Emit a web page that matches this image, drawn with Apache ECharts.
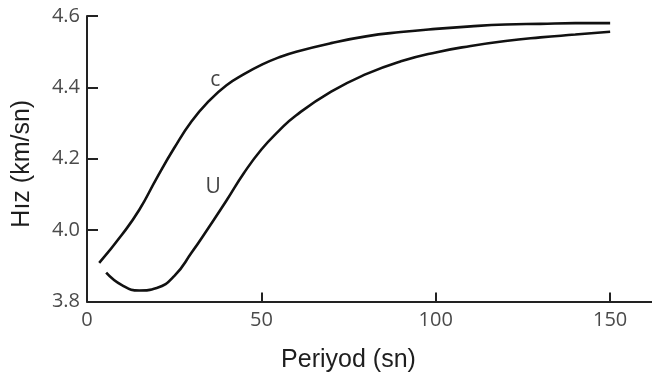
<!DOCTYPE html>
<html>
<head>
<meta charset="utf-8">
<script src="https://cdn.jsdelivr.net/npm/echarts@6/dist/echarts.min.js"></script>
<style>
  html, body { margin: 0; padding: 0; background: #fff; }
  #chart { width: 652px; height: 376px; }
</style>
</head>
<body>
<div id="chart"></div>
<script>
// Phase velocity (c) and group velocity (U) versus period
var cPeriods = [3.5, 10, 15, 20, 25, 30, 35, 40, 45, 50, 55, 60, 70, 80, 90, 100, 110, 120, 130, 140, 150];
var cSpeeds  = [3.908, 3.987, 4.057, 4.146, 4.230, 4.305, 4.362, 4.406, 4.437, 4.463, 4.484, 4.500, 4.524, 4.543, 4.555, 4.564, 4.571, 4.576, 4.578, 4.580, 4.580];

var uPeriods = [5.5, 10, 15, 20, 25, 30, 35, 40, 45, 50, 55, 60, 70, 80, 90, 100, 110, 120, 130, 140, 150];
var uSpeeds  = [3.881, 3.846, 3.831, 3.838, 3.871, 3.937, 4.009, 4.083, 4.160, 4.226, 4.278, 4.322, 4.388, 4.437, 4.473, 4.498, 4.516, 4.530, 4.540, 4.548, 4.556];

// Curve labels and where they sit (period, speed)
var curveNames = ['c', 'U'];
var curveLabelAt = [[36.8, 4.421], [36.2, 4.122]];

var yTicks = [3.8, 4.0, 4.2, 4.4, 4.6];
var xTicks = [0, 50, 100, 150];

function pairs(xs, ys) {
  return xs.map(function (x, i) { return [x, ys[i]]; });
}

var chart = echarts.init(document.getElementById('chart'), null, { renderer: 'canvas' });

var tickFont = { fontFamily: 'Open Sans', fontSize: 20, color: '#4a4a4a' };
var nameFont = { fontFamily: 'Liberation Sans', fontSize: 25, color: '#1e1e1e' };

function curve(name, data, labelPos) {
  return {
    name: name,
    type: 'line',
    data: data,
    smooth: 0.5,
    showSymbol: false,
    symbol: 'none',
    silent: true,
    lineStyle: { color: '#111', width: 2.6 },
    markPoint: {
      symbol: 'circle',
      symbolSize: 1,
      silent: true,
      itemStyle: { color: 'rgba(0,0,0,0)' },
      label: {
        show: true,
        position: 'inside',
        formatter: name,
        fontFamily: 'Open Sans',
        fontSize: 21,
        color: '#444'
      },
      data: [{ coord: labelPos }]
    }
  };
}

chart.setOption({
  animation: false,
  backgroundColor: '#fff',
  grid: { left: 87, right: 0, top: 16, bottom: 74.5, outerBoundsMode: 'none' },
  xAxis: {
    type: 'value',
    min: 0,
    max: 162,
    interval: 50,
    name: 'Periyod (sn)',
    nameLocation: 'middle',
    nameGap: 46,
    nameTextStyle: Object.assign({ padding: [0, 42, 0, 0] }, nameFont),
    axisLine: { show: true, lineStyle: { color: '#222', width: 2 } },
    axisTick: { show: true, inside: true, length: 9, lineStyle: { color: '#222', width: 2 } },
    axisLabel: Object.assign({
      margin: 9,
      showMaxLabel: false,
      formatter: function (v) { return xTicks.indexOf(v) >= 0 ? String(v) : ''; }
    }, tickFont),
    splitLine: { show: false }
  },
  yAxis: {
    type: 'value',
    min: 3.8,
    max: 4.6,
    interval: 0.2,
    name: 'Hız (km/sn)',
    nameLocation: 'middle',
    nameGap: 52,
    nameTextStyle: Object.assign({ padding: [0, 10, 0, 0] }, nameFont),
    axisLine: { show: true, lineStyle: { color: '#222', width: 2 } },
    axisTick: { show: true, inside: true, length: 11, lineStyle: { color: '#222', width: 2 } },
    axisLabel: Object.assign({
      margin: 7,
      formatter: function (v) {
        var t = yTicks.filter(function (k) { return Math.abs(k - v) < 1e-6; });
        return t.length ? t[0].toFixed(1) : '';
      }
    }, tickFont),
    splitLine: { show: false }
  },
  series: [
    curve(curveNames[0], pairs(cPeriods, cSpeeds), curveLabelAt[0]),
    curve(curveNames[1], pairs(uPeriods, uSpeeds), curveLabelAt[1])
  ]
});
</script>
</body>
</html>
